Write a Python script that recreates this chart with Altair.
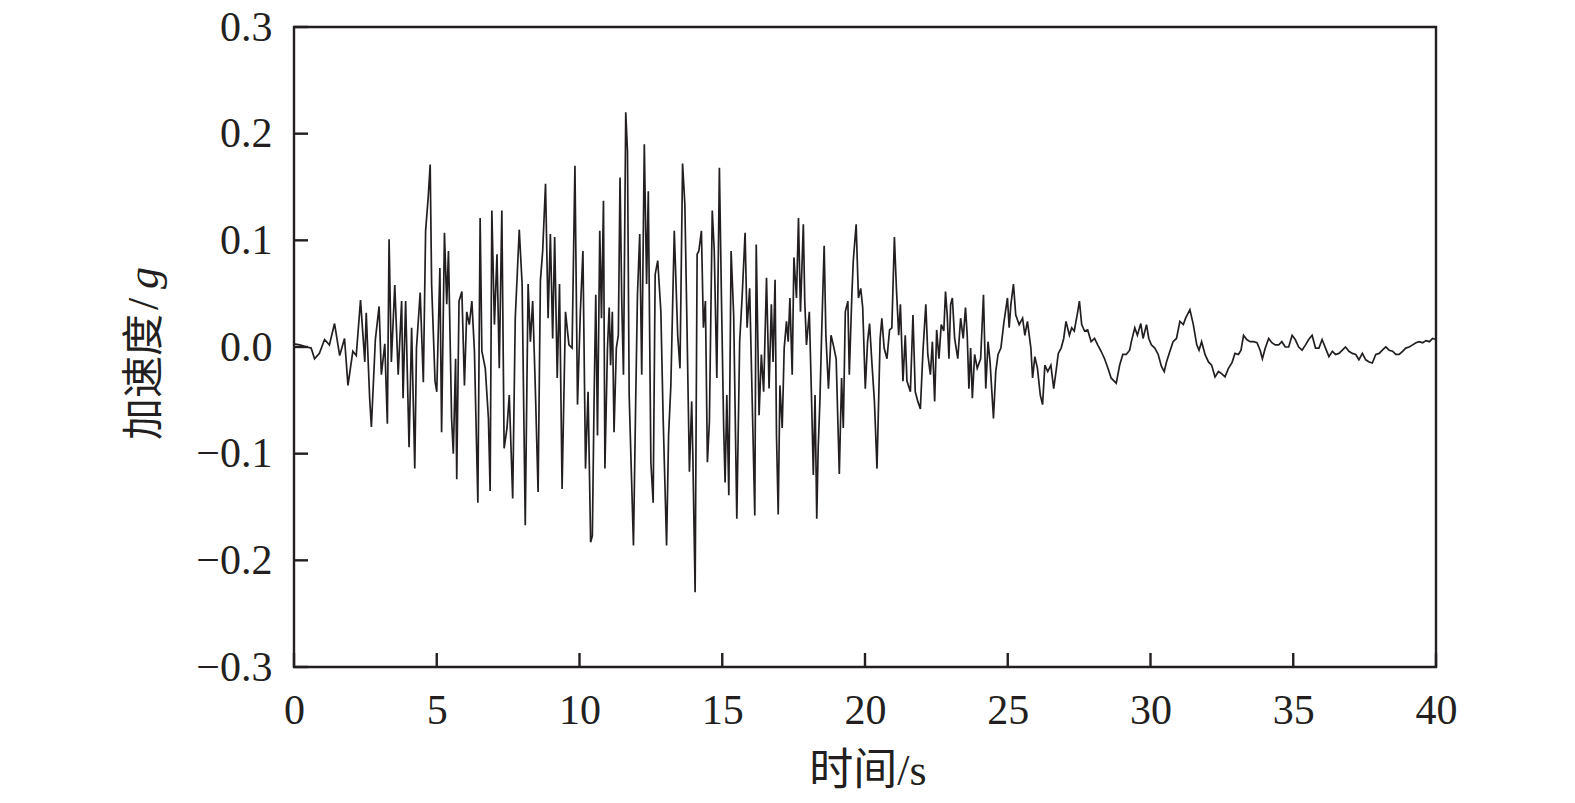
import altair as alt
import pandas as pd

# ---- data (time in s, acceleration in g) ----
phase_onset = [
    (0.00, 0.003), (0.20, 0.002), (0.45, 0.000), (0.60, -0.001), (0.72, -0.011),
    (0.89, -0.006), (1.07, 0.007), (1.24, 0.002), (1.42, 0.022), (1.60, -0.008),
    (1.77, 0.008), (1.89, -0.036), (2.06, -0.004), (2.18, -0.008), (2.33, 0.044),
    (2.48, -0.014), (2.53, 0.032), (2.65, -0.048), (2.71, -0.075), (2.85, 0.007),
    (2.98, 0.038), (3.06, -0.026), (3.18, 0.003), (3.27, -0.072), (3.33, 0.101),
    (3.41, -0.014), (3.53, 0.058), (3.65, -0.026), (3.77, 0.043), (3.82, -0.048),
    (3.91, 0.043), (4.03, -0.094), (4.12, 0.018), (4.23, -0.114), (4.29, -0.001),
    (4.42, 0.051), (4.53, -0.033), (4.61, 0.109), (4.70, 0.140), (4.77, 0.171),
]
phase_strong_a = [
    (4.82, 0.059), (4.94, -0.032), (5.00, -0.042), (5.11, 0.074), (5.17, -0.080),
    (5.27, 0.107), (5.35, 0.040), (5.41, 0.090), (5.52, -0.067), (5.58, -0.100),
    (5.66, -0.011), (5.70, -0.124), (5.78, 0.043), (5.88, 0.052), (5.97, -0.036),
    (6.05, 0.033), (6.14, 0.021), (6.23, 0.043), (6.32, -0.004), (6.37, -0.064),
    (6.44, -0.146), (6.52, 0.121), (6.58, -0.004), (6.70, -0.020), (6.81, -0.067),
    (6.87, -0.135), (6.93, 0.128), (7.02, 0.021), (7.11, 0.087), (7.19, -0.020),
    (7.28, 0.128), (7.36, -0.095), (7.46, -0.076), (7.54, -0.045), (7.66, -0.142),
    (7.75, 0.027), (7.89, 0.110), (7.99, 0.059), (8.10, -0.167), (8.20, 0.059),
    (8.28, 0.005), (8.36, 0.043), (8.45, -0.036), (8.55, -0.136), (8.63, 0.062),
    (8.71, 0.090), (8.81, 0.153), (8.90, 0.027), (8.98, 0.106), (9.06, 0.008),
    (9.13, 0.103), (9.22, -0.029), (9.30, 0.059), (9.39, -0.133), (9.51, 0.033),
    (9.63, 0.002), (9.74, -0.001), (9.84, 0.170), (9.93, -0.054), (10.03, 0.033),
    (10.12, 0.090), (10.21, -0.114), (10.30, -0.042), (10.39, -0.183),
]
phase_strong_b = [
    (10.45, -0.177), (10.51, -0.051), (10.57, 0.049), (10.63, -0.083), (10.71, 0.109),
    (10.77, 0.027), (10.84, 0.137), (10.89, -0.114), (10.98, -0.001), (11.04, 0.037),
    (11.09, -0.017), (11.15, 0.033), (11.21, -0.080), (11.29, -0.001), (11.36, 0.011),
    (11.42, 0.159), (11.48, 0.043), (11.54, -0.026), (11.62, 0.220), (11.68, 0.184),
    (11.74, -0.045), (11.80, -0.102), (11.89, -0.186), (11.97, -0.048), (12.03, 0.049),
    (12.11, 0.106), (12.18, -0.026), (12.27, 0.190), (12.35, 0.059), (12.41, 0.146),
    (12.50, -0.108), (12.58, -0.146), (12.65, 0.068), (12.74, 0.081), (12.85, 0.033),
    (12.93, -0.067), (13.05, -0.186), (13.12, -0.083), (13.20, -0.036), (13.32, 0.109),
    (13.44, 0.011), (13.52, -0.020), (13.61, 0.172), (13.69, 0.134), (13.76, 0.027),
    (13.85, -0.117), (13.93, -0.051), (13.97, -0.102), (14.05, -0.230), (14.12, 0.087),
    (14.18, 0.090), (14.27, 0.109), (14.34, 0.018), (14.41, 0.043), (14.48, -0.108),
    (14.55, -0.070), (14.65, 0.128), (14.72, 0.090), (14.81, -0.029), (14.90, 0.168),
    (14.97, 0.049), (15.05, -0.076), (15.10, -0.127), (15.16, -0.045), (15.23, -0.139),
    (15.31, 0.090), (15.40, 0.030), (15.51, -0.161), (15.61, 0.005), (15.70, 0.049),
    (15.80, 0.107), (15.87, 0.018), (15.96, 0.055), (16.05, -0.051), (16.14, -0.158),
    (16.19, 0.096), (16.29, -0.064), (16.37, -0.007), (16.45, -0.042), (16.55, 0.065),
]
phase_strong_c = [
    (16.64, -0.039), (16.72, 0.040), (16.78, -0.014), (16.85, 0.063), (16.90, -0.083),
    (16.96, -0.157), (17.02, -0.036), (17.10, -0.076), (17.17, -0.001), (17.25, 0.024),
    (17.31, 0.005), (17.37, 0.046), (17.45, -0.026), (17.51, 0.084), (17.60, 0.046),
    (17.67, 0.121), (17.74, 0.033), (17.84, 0.115), (17.89, 0.043), (17.95, 0.002),
    (18.05, 0.033), (18.13, -0.051), (18.19, -0.120), (18.25, -0.045), (18.31, -0.161),
    (18.36, -0.095), (18.42, -0.051), (18.48, 0.011), (18.57, 0.095), (18.63, 0.011),
    (18.72, -0.039), (18.81, 0.011), (18.89, 0.002), (18.99, -0.011), (19.10, -0.119),
    (19.18, -0.029), (19.24, -0.076), (19.31, 0.033), (19.40, 0.043), (19.45, -0.026),
    (19.54, 0.049), (19.59, 0.081), (19.69, 0.115), (19.77, 0.046), (19.85, 0.055),
    (19.92, 0.037), (20.01, -0.039), (20.09, 0.005), (20.16, 0.022), (20.24, -0.014),
    (20.33, -0.051), (20.42, -0.114), (20.53, 0.008), (20.59, 0.027), (20.67, -0.001),
    (20.77, -0.011), (20.86, 0.016), (20.94, 0.018), (21.03, 0.103), (21.10, 0.055),
    (21.18, 0.011), (21.24, 0.040), (21.33, -0.032), (21.41, 0.011), (21.47, -0.032),
    (21.59, -0.042), (21.68, 0.030), (21.76, -0.042), (21.85, -0.051), (21.94, -0.058),
    (22.03, -0.004), (22.13, 0.040), (22.20, -0.007), (22.29, -0.026), (22.36, 0.005),
    (22.44, -0.051), (22.51, 0.016), (22.59, -0.011),
]
phase_decay = [
    (22.67, 0.021), (22.76, 0.015), (22.82, 0.052), (22.88, 0.030), (22.94, -0.011),
    (23.00, 0.040), (23.06, 0.046), (23.14, 0.008), (23.25, -0.011), (23.35, 0.027),
    (23.44, 0.008), (23.52, 0.037), (23.58, 0.011), (23.64, -0.039), (23.70, -0.001),
    (23.76, -0.048), (23.84, -0.007), (23.93, -0.020), (24.05, -0.011), (24.15, 0.049),
    (24.23, -0.039), (24.31, 0.005), (24.38, -0.014), (24.50, -0.067), (24.58, -0.023),
    (24.66, -0.007), (24.76, -0.001), (24.87, 0.024), (24.99, 0.046), (25.05, 0.018),
    (25.11, 0.040), (25.20, 0.059), (25.28, 0.030), (25.40, 0.021), (25.52, 0.027),
    (25.60, 0.011), (25.69, 0.024), (25.81, -0.001), (25.87, -0.029), (25.95, -0.009),
    (26.04, -0.020), (26.14, -0.045), (26.22, -0.054), (26.30, -0.017), (26.40, -0.023),
    (26.51, -0.017), (26.61, -0.039), (26.69, -0.023), (26.77, -0.006), (26.87, -0.001),
    (26.96, 0.008), (27.04, 0.024), (27.16, 0.011), (27.24, 0.018), (27.33, 0.015),
    (27.45, 0.033), (27.51, 0.043), (27.59, 0.021), (27.69, 0.015), (27.80, 0.016),
    (27.92, 0.005), (28.04, 0.008), (28.15, 0.002), (28.27, -0.004), (28.39, -0.011),
    (28.51, -0.020), (28.62, -0.029), (28.80, -0.034), (28.92, -0.017), (29.03, -0.007),
    (29.15, -0.007), (29.27, -0.003),
]
phase_coda_a = [
    (29.33, 0.005), (29.45, 0.018), (29.54, 0.011), (29.66, 0.022), (29.74, 0.008),
    (29.86, 0.021), (29.94, 0.008), (30.03, 0.002), (30.15, -0.001), (30.27, -0.007),
    (30.38, -0.018), (30.48, -0.023), (30.56, -0.014), (30.68, -0.004), (30.79, 0.005),
    (30.91, 0.008), (31.03, 0.024), (31.15, 0.021), (31.23, 0.027), (31.38, 0.035),
    (31.50, 0.021), (31.62, 0.002), (31.70, -0.003), (31.79, 0.005), (31.91, -0.007),
    (32.03, -0.014), (32.14, -0.017), (32.26, -0.028), (32.38, -0.023), (32.49, -0.025),
    (32.61, -0.028), (32.73, -0.020), (32.85, -0.015), (32.96, -0.006), (33.08, -0.007),
    (33.17, -0.003), (33.26, 0.011), (33.37, 0.007), (33.49, 0.005), (33.61, 0.005),
    (33.73, 0.004), (33.84, -0.003), (33.92, -0.011), (34.02, -0.001), (34.14, 0.008),
    (34.25, 0.004), (34.37, 0.002), (34.49, 0.002), (34.60, 0.005), (34.72, 0.000),
    (34.84, 0.000), (34.96, 0.011), (35.07, 0.007), (35.19, 0.000), (35.31, -0.003),
]
phase_coda_b = [
    (35.43, 0.002), (35.54, 0.007), (35.66, 0.011), (35.78, -0.001), (35.90, -0.001),
    (36.01, 0.007), (36.13, -0.001), (36.25, -0.009), (36.37, -0.004), (36.48, -0.007),
    (36.60, -0.006), (36.72, -0.003), (36.83, 0.000), (36.95, -0.004), (37.07, -0.006),
    (37.19, -0.007), (37.30, -0.012), (37.42, -0.006), (37.54, -0.012), (37.66, -0.014),
    (37.77, -0.015), (37.89, -0.007), (38.01, -0.006), (38.12, -0.003), (38.24, 0.000),
    (38.36, -0.003), (38.48, -0.004), (38.59, -0.007), (38.71, -0.007), (38.83, -0.004),
    (38.94, -0.001), (39.06, 0.000), (39.18, 0.002), (39.30, 0.004), (39.41, 0.005),
    (39.53, 0.004), (39.65, 0.006), (39.77, 0.005), (39.88, 0.008), (40.00, 0.007),
]

x_ticks = [0, 5, 10, 15, 20, 25, 30, 35, 40]
y_ticks = [-0.3, -0.2, -0.1, 0.0, 0.1, 0.2, 0.3]
x_title = "时间/s"
y_title_cjk = "加速度"
y_title_slash = "/"
y_title_unit = "g"

# ---- chart ----
INK = "#231f20"
W, H = 1142, 640
TICK = 14

rows = (phase_onset + phase_strong_a + phase_strong_b + phase_strong_c
        + phase_decay + phase_coda_a + phase_coda_b)
df = pd.DataFrame(rows, columns=["t", "a"])

xscale = alt.Scale(domain=[0, 40], nice=False, zero=False)
yscale = alt.Scale(domain=[-0.3, 0.3], nice=False, zero=False)

common_axis = dict(
    grid=False, ticks=False, domain=False,
    labelFont="Liberation Serif", labelFontSize=42, labelColor=INK,
    labelOverlap=False, labelFlush=False, title=None,
)
x_axis = alt.Axis(values=x_ticks, format="d", labelPadding=23, **common_axis)
y_axis = alt.Axis(values=y_ticks, format=".1f", labelPadding=22, **common_axis)

line = alt.Chart(df).mark_line(color=INK, strokeWidth=1.7, clip=True).encode(
    x=alt.X("t:Q", scale=xscale, axis=x_axis),
    y=alt.Y("a:Q", scale=yscale, axis=y_axis),
    order="t:Q",
)

xt = alt.Chart(pd.DataFrame({"t": x_ticks})).mark_rule(color=INK, strokeWidth=2.4).encode(
    x=alt.X("t:Q", scale=xscale, axis=x_axis),
    y=alt.value(H), y2=alt.value(H - TICK),
)
yt = alt.Chart(pd.DataFrame({"a": y_ticks})).mark_rule(color=INK, strokeWidth=2.4).encode(
    y=alt.Y("a:Q", scale=yscale, axis=y_axis),
    x=alt.value(0), x2=alt.value(TICK),
)

xlab = alt.Chart(pd.DataFrame({"s": [x_title]})).mark_text(
    font="Liberation Serif, Noto Sans CJK SC", fontSize=44, color=INK,
    align="center", baseline="middle",
).encode(text="s:N", x=alt.value(W / 2 + 3), y=alt.value(745))

ylab1 = alt.Chart(pd.DataFrame({"s": [y_title_cjk]})).mark_text(
    font="Noto Sans CJK SC", fontSize=42, color=INK, angle=270,
    align="center", baseline="alphabetic",
).encode(text="s:N", x=alt.value(-136), y=alt.value(350))
ylab2 = alt.Chart(pd.DataFrame({"s": [y_title_slash]})).mark_text(
    font="Liberation Serif", fontSize=44, color=INK, angle=270,
    align="center", baseline="alphabetic",
).encode(text="s:N", x=alt.value(-136), y=alt.value(277))
ylab3 = alt.Chart(pd.DataFrame({"s": [y_title_unit]})).mark_text(
    font="Liberation Serif", fontSize=44, fontStyle="italic", color=INK, angle=270,
    align="center", baseline="alphabetic",
).encode(text="s:N", x=alt.value(-136), y=alt.value(251))

chart = alt.layer(line, xt, yt, xlab, ylab1, ylab2, ylab3).properties(
    width=W, height=H,
    autosize=alt.AutoSizeParams(type="none"),
    padding={"left": 286, "top": 19, "right": 110, "bottom": 130},
    background="white",
).configure_view(stroke=INK, strokeWidth=2.4)

chart.save("out.html", embed_options={"renderer": "svg", "actions": False})
